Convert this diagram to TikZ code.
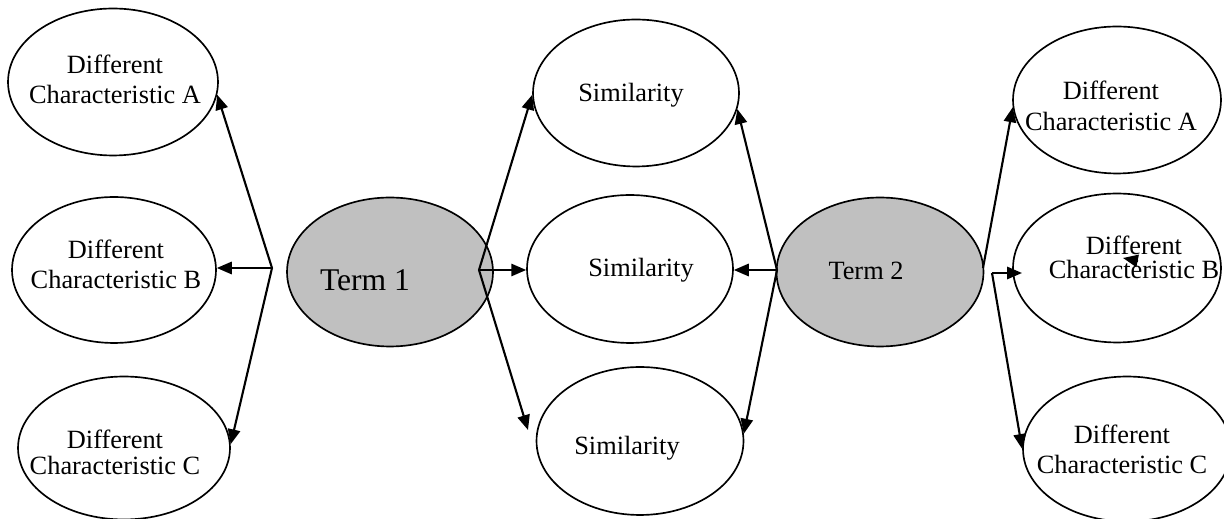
\documentclass[tikz,border=0pt]{standalone}
\usepackage{fontspec}
\setmainfont{Liberation Serif}
\usetikzlibrary{arrows.meta, shapes.geometric}
\definecolor{termgray}{RGB}{192,192,192}

\begin{document}
\begin{tikzpicture}[
    x=0.02cm, y=-0.02cm,
    oval/.style={ellipse, draw=black, line width=0.95pt, minimum width=4.14cm,
                 minimum height=2.96cm, inner sep=0pt},
    term/.style={oval, fill=termgray},
    lbl/.style={align=center, inner sep=0pt, font=\fontsize{15}{17}\selectfont},
    relation/.style={-{Triangle[length=8.5pt, width=7pt]}, line width=1.2pt}
]
\useasboundingbox (0,0) rectangle (1224,519);

% Define ellipses
\node[oval, minimum width=4.2cm, minimum height=2.94cm] (difLA) at (113,82) {};
\node[oval, minimum width=4.08cm, minimum height=2.92cm] (difLB) at (114,270) {};
\node[oval, minimum width=4.24cm, minimum height=2.86cm] (difLC) at (124,448) {};
\node[term, minimum width=4.12cm, minimum height=2.98cm] (term1) at (390,272) {};
\node[oval, minimum width=4.12cm, minimum height=2.94cm] (simA) at (636,93) {};
\node[oval, minimum width=4.12cm] (simB) at (630,269) {};
\node[oval] (simC) at (640,441) {};
\node[term, minimum width=4.14cm, minimum height=2.98cm] (term2) at (880,272) {};
\node[oval, minimum width=4.16cm, minimum height=2.94cm] (difRA) at (1117,100) {};
\node[oval, minimum width=4.16cm, minimum height=2.98cm] (difRB) at (1117,268) {};
\node[oval, minimum width=4.16cm, minimum height=2.9cm] (difRC) at (1127,449) {};

% Texts
\node[lbl] (difLAt) at (115,79) {Different\\Characteristic A};
\node[lbl] (difLBt) at (116,264) {Different\\Characteristic B};
\node[lbl, font=\fontsize{15}{14.7}\selectfont] (difLCt) at (115,452) {Different\\Characteristic C};
\node[lbl, font=\fontsize{18}{20}\selectfont] (term1t) at (365,280) {Term 1};
\node[lbl] (simAt) at (631,95) {Similarity};
\node[lbl] (simBt) at (641,270) {Similarity};
\node[lbl] (simCt) at (627,448) {Similarity};
\node[lbl] (term2t) at (866,271) {Term 2};
\node[lbl, font=\fontsize{15}{17.5}\selectfont] (difRAt) at (1111,106) {Different\\Characteristic A};
\node[lbl, font=\fontsize{15}{13.5}\selectfont] (difRBt) at (1134,257) {Different\\Characteristic B};
\node[lbl] (difRCt) at (1122,449) {Different\\Characteristic C};

% Branch points
\coordinate (brL) at (272,268);
\coordinate (t1out) at (479,270);
\coordinate (t2in) at (777,270);
\coordinate (t2top) at (983,268);
\coordinate (t2split) at (992,273);
\coordinate (simCin) at (528,430);
\coordinate (difRBin) at (1022,273);
\coordinate (strayS) at (1138,261);
\coordinate (strayT) at (1123,258);

% Relations
\draw[relation] (brL) -- (difLA.-7);
\draw[relation] (brL) -- (brL -| difLB.east);
\draw[relation] (brL) -- (difLC.2);
\draw[relation] (t1out) -- (simA.181);
\draw[relation] (t1out) -- (t1out -| simB.west);
\draw[relation] (t1out) -- (simCin);
\draw[relation] (t2in) -- (simA.-9);
\draw[relation] (t2in) -- (t2in -| simB.east);
\draw[relation] (t2in) -- (simC.4);
\draw[relation] (t2top) -- (difRA.184);
\draw[relation] (t2split) -- (difRBin);
\draw[relation] (t2split) -- (difRC.west);
\draw[relation] (strayS) -- (strayT);

\end{tikzpicture}
\end{document}
